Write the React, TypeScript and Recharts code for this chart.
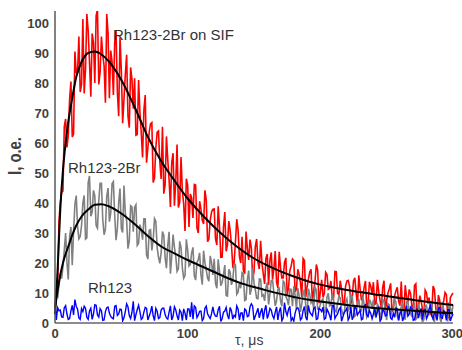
import React from "react";
import { LineChart, Line, XAxis, YAxis } from "recharts";

// measured decays, read at every μs: *Even at t = 0, 2, 4 ... 300, *Odd at t = 1, 3 ... 299

// Rh123-2Br on SIF
const redEven = [
  5, 13, 40, 44, 68, 62.5, 80.5, 63, 83.5, 95.5,
  79.5, 76.5, 103, 87, 96.5, 80, 104.5, 83.7, 89.2, 73.4,
  96.5, 90.8, 76, 97.3, 68.9, 84, 74.7, 89.4, 65.1, 81.3,
  81.6, 62.8, 70.4, 55.2, 76, 58.4, 66.4, 46.8, 58.4, 64,
  48, 43.1, 62.2, 47.7, 53.6, 39.1, 59.5, 40.3, 43.9, 30.7,
  46, 43, 35, 46, 30, 38, 33, 41, 28, 37,
  38, 26, 32, 22, 37, 26, 31, 19, 27, 31,
  20, 17.5, 30.5, 21, 25, 17, 28, 18, 20, 13,
  23, 21, 14.5, 24, 11.7, 18.5, 15, 21.7, 11.6, 19,
  20.7, 11.3, 16.2, 8.7, 20.8, 12, 17, 7, 14, 17.6,
  10.3, 8.6, 16.9, 11.2, 14, 8.3, 17.1, 9.4, 11.3, 6.1,
  14, 12.4, 7.7, 15.1, 5.9, 11.3, 8.7, 14, 6.4, 12.2,
  13.6, 6.5, 10.4, 4.7, 14.1, 7.5, 11.4, 3.7, 9.1, 11.9,
  5.8, 4.2, 12.6, 6.9, 9.8, 4.2, 13.1, 5.5, 7.3, 2.2,
  10.1, 8.5, 3.8, 11.2, 2.1, 7.5, 4.9, 10.2, 2.6, 8.5,
  10,
];
const redOdd = [
  8, 34, 43.5, 65.5, 58.5, 74.5, 62, 90.5, 83.5, 77,
  101.3, 84.5, 97.4, 75.4, 93.5, 102.4, 79.5, 95.5, 85.8, 103,
  74.9, 87.2, 93.4, 77.1, 95.2, 66.6, 82.8, 69, 85.2, 71.4,
  62.6, 81, 63.4, 71, 53.4, 63.6, 66.8, 48.4, 63.6, 53.6,
  65.4, 46, 54.4, 38.7, 56.6, 46.9, 38.5, 55.3, 39.7, 48.1,
  32, 41.8, 46.2, 31.7, 40.6, 34.2, 44.2, 27.1, 34.3, 37.9,
  28, 38.9, 21.9, 31.9, 23.9, 34, 26, 19.9, 34.6, 22.2,
  28.7, 16.4, 24.8, 27.8, 14.6, 25.5, 20.1, 27.4, 16.4, 21.6,
  12.7, 23.5, 18.2, 13.6, 23.7, 15, 20.2, 9.4, 17.4, 21.3,
  10.4, 17.9, 13.4, 21.5, 8.6, 14.6, 17.9, 10.6, 19.5, 6.6,
  14.4, 9.8, 16.2, 11.6, 8, 17.2, 9.9, 14.1, 6.8, 12.2,
  14.2, 6.4, 14, 9.9, 15.9, 7.5, 11.8, 5, 13.7, 9.7,
  6.2, 14.4, 7.6, 11.9, 3.5, 10, 13.2, 4.8, 10.7, 7.2,
  13.8, 3.8, 8.6, 11.2, 5.6, 12.6, 2.6, 9.1, 4.5, 11,
  6.5, 3.1, 12.3, 5, 9.3, 2.1, 7.4, 9.5, 1.7, 9.3,
];

// Rh123-2Br
const grayEven = [
  7.4, 8.3, 16.6, 18.8, 30, 14.5, 32, 30.5, 42.5, 28,
  32.5, 42.5, 28.4, 49, 36.9, 42.4, 31.6, 46.6, 34.5, 31.3,
  45, 36.6, 47.1, 27.6, 40.1, 31.5, 45.8, 34.1, 27.4, 38.7,
  38.6, 25.9, 32.8, 27.8, 34.7, 21.3, 31.1, 27.6, 33.9, 22,
  23.4, 29.2, 18.3, 30.4, 22.3, 25.3, 17.2, 27.2, 18.4, 15.8,
  24.3, 19.5, 25.2, 14.3, 21.1, 16.2, 24.1, 17.6, 13.9, 20.2,
  21.4, 11.6, 17.3, 13.6, 19.3, 9, 16.9, 14.3, 19.5, 10.3,
  11.6, 16.3, 7.8, 17.5, 11.2, 13.4, 8.2, 14.7, 9, 7.4,
  13.5, 9.7, 14.4, 5.7, 11.3, 7.4, 14, 8.8, 5.9, 11.2,
  12.3, 4.5, 9.2, 6.3, 11.2, 2.8, 9.5, 7.6, 11.9, 4.6,
  6.2, 8.1, 3.8, 9.9, 6, 7.6, 3.7, 8.9, 4.4, 3.3,
  8.1, 5.2, 8.9, 2.2, 6.6, 3.8, 8.9, 4.9, 2.7, 6.9,
  7.8, 1.7, 5.6, 3.4, 7.2, 1, 6, 4.5, 8, 2.3,
  3.4, 6.4, 1.1, 7.3, 3.4, 5.1, 1.2, 6.4, 2.1, 1,
  5.9, 3, 6.8, 0.5, 4.6, 1.8, 7, 3, 0.9, 5.1,
  6.1,
];
const grayOdd = [
  12, 12.7, 14.8, 24.3, 20.3, 28.8, 19.3, 39.5, 32.3, 28.8,
  40, 28, 46.8, 35.6, 44.2, 32.5, 40.6, 46.6, 29.4, 42.2,
  33.8, 46.4, 35.9, 31.4, 44.8, 30.2, 36.5, 24.8, 39.1, 30.4,
  39.4, 26.6, 31, 34.7, 22.7, 30.9, 24.2, 34.8, 25.1, 19.9,
  30.5, 21.8, 25.9, 16.4, 29.5, 22.3, 18.1, 25.1, 14.9, 27.9,
  19, 23.4, 15.8, 20.2, 23.4, 12.8, 20.2, 15, 22.4, 16,
  13.2, 21.2, 12.4, 16.2, 9.2, 17.9, 12.7, 19.6, 9.6, 13.5,
  16.8, 7.5, 14.5, 9.4, 18.2, 11, 8.1, 14.6, 9.4, 11.8,
  6.2, 14.1, 9.9, 7.4, 11.6, 5.6, 13.5, 7.9, 11.3, 5.6,
  9.1, 11.6, 3.7, 9.4, 5.7, 11.4, 6.7, 4.8, 11, 4.6,
  7.5, 3.5, 8.6, 5.7, 9.8, 4.1, 6.5, 8.4, 3, 7.1,
  4.2, 9.4, 5, 2.9, 8, 4.1, 6.1, 1.8, 7.9, 4.7,
  2.9, 6.3, 1.7, 7.9, 3.7, 6.4, 2.1, 4.9, 6.9, 0.9,
  5.4, 2.5, 7, 3.4, 2, 6.8, 1.8, 4.3, 0.4, 5.6,
  2.7, 6.9, 1.2, 3.6, 5.7, 0.3, 4.5, 1.7, 6.9, 2.6,
];

// Rh123
const blueEven = [
  7, 5.1, 4.3, 1.9, 5.8, 1.2, 4.0, 2.7, 5.6, 1.7,
  4.8, 5.6, 1.9, 4.0, 1.2, 6.1, 2.7, 4.8, 0.9, 3.8,
  5.3, 2.2, 1.4, 5.8, 3.0, 4.5, 1.7, 6.4, 2.5, 3.5,
  0.8, 4.5, 3.8, 1.7, 5.2, 1.0, 3.6, 2.4, 4.9, 1.5,
  4.3, 4.9, 1.7, 3.6, 1.0, 5.4, 2.4, 4.3, 0.8, 3.3,
  4.7, 2.0, 1.3, 5.2, 2.6, 4.0, 1.5, 5.6, 2.2, 3.1,
  3.1, 2.2, 5.6, 1.5, 4.0, 2.6, 5.2, 1.3, 2.0, 4.7,
  3.3, 0.8, 4.3, 2.4, 6.4, 1.0, 3.6, 1.7, 4.9, 4.3,
  1.5, 4.9, 2.4, 3.6, 1.0, 5.2, 1.7, 3.8, 4.5, 0.8,
  0.6, 4.8, 4.0, 1.6, 5.5, 0.9, 3.7, 2.4, 5.3, 1.4,
  4.5, 5.3, 1.6, 3.7, 0.9, 5.8, 2.4, 4.5, 0.6, 3.5,
  5.0, 1.9, 1.1, 5.5, 2.7, 4.2, 1.4, 6.1, 2.2, 3.2,
  3.0, 2.1, 5.5, 1.4, 3.9, 2.5, 5.1, 1.2, 1.9, 4.6,
  3.2, 0.7, 4.2, 2.3, 5.3, 0.9, 3.5, 1.6, 4.8, 4.2,
  1.4, 4.8, 2.3, 3.5, 0.9, 5.1, 1.6, 3.7, 4.4, 0.7,
  3.0,
];
const blueOdd = [
  1.0, 4.1, 2.0, 5.1, 3.0, 1.5, 5.9, 7.8, 4.6, 1.2,
  3.8, 4.9, 1.2, 4.9, 3.0, 5.9, 2.0, 4.1, 1.0, 5.1,
  3.3, 1.7, 5.6, 2.5, 4.6, 0.7, 3.8, 5.4, 1.5, 7.2,
  2.8, 5.9, 1.2, 3.6, 4.9, 2.3, 5.6, 0.8, 3.9, 1.8,
  4.9, 2.8, 1.3, 5.7, 2.3, 4.4, 1.0, 3.6, 4.7, 1.0,
  4.7, 6.9, 5.7, 1.8, 3.9, 0.8, 4.9, 3.1, 1.5, 5.4,
  2.3, 4.4, 0.5, 3.6, 5.2, 1.3, 4.1, 2.6, 5.7, 1.0,
  3.4, 4.7, 2.1, 5.4, 5.6, 2.3, 4.9, 3.6, 1.2, 5.9,
  2.8, 4.3, 1.5, 5.4, 3.8, 0.7, 6.8, 2.5, 5.6, 1.7,
  3.3, 5.1, 1.0, 4.1, 2.0, 5.9, 3.0, 4.9, 1.2, 4.9,
  3.8, 1.2, 4.6, 2.5, 5.9, 1.5, 3.0, 5.1, 2.0, 4.1,
  1.0, 5.5, 2.2, 4.8, 3.5, 1.1, 5.8, 2.7, 4.2, 1.4,
  5.3, 3.7, 0.6, 4.5, 2.4, 5.5, 1.6, 3.2, 5.0, 0.9,
  4.0, 1.9, 5.8, 2.9, 4.8, 1.1, 4.8, 3.7, 1.1, 4.5,
  2.4, 5.8, 1.4, 2.9, 5.0, 1.9, 4.0, 0.9, 4.4, 2.0,
];

// fitted curves (black)
const fitT = [
  0, 2, 4, 6, 8, 10, 13, 16, 20, 25, 30, 35, 40, 50, 60, 70, 80, 90, 100,
  110, 120, 130, 140, 150, 160, 170, 180, 190, 200, 210, 220, 230, 240, 250,
  260, 270, 280, 290, 300,
];
const redFit = [
  3, 18, 38, 51, 60, 67, 75, 82, 87, 90, 90.5, 89.5, 87.5, 81, 72, 62, 54,
  47.5, 41.5, 36.5, 32, 28, 24.5, 21.5, 19.2, 17.2, 15.5, 14, 12.8, 11.8, 11,
  10.3, 9.6, 9, 8.3, 7.7, 7.1, 6.5, 6,
];
const grayFit = [
  5, 11, 16, 20, 23, 25.5, 29.3, 32.5, 35.5, 37.8, 39.4, 39.6, 39, 36.5, 33,
  29, 25.5, 23.2, 21, 19, 17, 15, 13.3, 12, 10.8, 9.7, 8.7, 7.8, 7.2, 6.6, 6,
  5.5, 5, 4.7, 4.4, 4.1, 3.8, 3.5, 3.3,
];

const xTicks = [0, 100, 200, 300];
const yTicks = [0, 10, 20, 30, 40, 50, 60, 70, 80, 90, 100];

const FONT = "'Liberation Sans', Arial, sans-serif";

// interleave the two readings into one trace
const toSeries = (even: number[], odd: number[]) => {
  const out: { t: number; v: number }[] = [];
  even.forEach((v, i) => {
    out.push({ t: i * 2, v });
    if (i < odd.length) out.push({ t: i * 2 + 1, v: odd[i] });
  });
  return out;
};
const toFit = (vals: number[]) => fitT.map((t, i) => ({ t, v: vals[i] }));

export default function App() {
  const tickStyle = { fill: "#404040", fontSize: 13, fontWeight: 700, fontFamily: FONT };
  return (
    <div style={{ position: "absolute", left: 0, top: 0, width: 462, height: 350, background: "#fff" }}>
      <LineChart width={462} height={350} margin={{ top: 11, right: 9, bottom: 0, left: 0 }}>
        <XAxis
          type="number"
          dataKey="t"
          domain={[0, 300]}
          ticks={xTicks}
          height={27}
          tickLine={false}
          tickSize={6}
          tickMargin={0}
          axisLine={{ stroke: "#8c8c8c", strokeWidth: 2 }}
          tick={tickStyle}
        />
        <YAxis
          type="number"
          domain={[0, 104]}
          ticks={yTicks}
          width={55}
          allowDataOverflow
          tickLine={false}
          tickSize={6}
          tickMargin={0}
          axisLine={{ stroke: "#595959", strokeWidth: 1.5 }}
          tick={tickStyle}
        />
        <Line data={toSeries(redEven, redOdd)} dataKey="v" type="linear" stroke="#ff0000" strokeWidth={1.6} dot={false} isAnimationActive={false} />
        <Line data={toSeries(grayEven, grayOdd)} dataKey="v" type="linear" stroke="#808080" strokeWidth={1.6} dot={false} isAnimationActive={false} />
        <Line data={toSeries(blueEven, blueOdd)} dataKey="v" type="linear" stroke="#0000ff" strokeWidth={1.4} dot={false} isAnimationActive={false} />
        <Line data={toFit(redFit)} dataKey="v" type="monotone" stroke="#000" strokeWidth={2} dot={false} isAnimationActive={false} />
        <Line data={toFit(grayFit)} dataKey="v" type="monotone" stroke="#000" strokeWidth={2} dot={false} isAnimationActive={false} />
      </LineChart>
      <svg width={462} height={350} style={{ position: "absolute", left: 0, top: 0, pointerEvents: "none" }}>
        <g fontFamily={FONT} fill="#333">
          <text x={113} y={40} fontSize={15}>Rh123-2Br on SIF</text>
          <text x={68} y={172.5} fontSize={15}>Rh123-2Br</text>
          <text x={88} y={293} fontSize={15}>Rh123</text>
          <text x={235} y={345} fontSize={14} fill="#404040">τ, μs</text>
          <text
            transform="translate(21,156) rotate(-90)"
            textAnchor="middle"
            fontSize={18}
            fontWeight={700}
            fill="#404040"
            textLength={38}
            lengthAdjust="spacingAndGlyphs"
          >
            I, o.e.
          </text>
        </g>
      </svg>
    </div>
  );
}
